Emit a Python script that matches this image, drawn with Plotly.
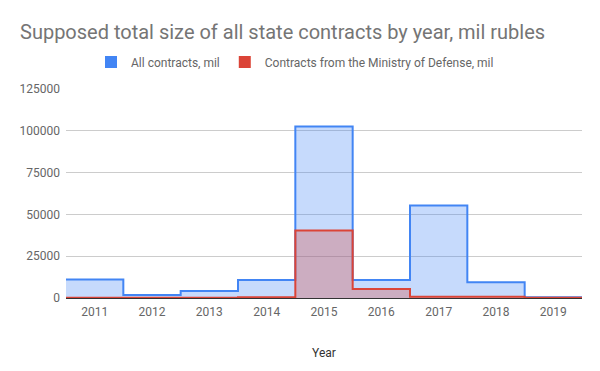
import plotly.graph_objects as go

years = [2011, 2012, 2013, 2014, 2015, 2016, 2017, 2018, 2019]
all_contracts = [11000, 1800, 4200, 10800, 102500, 10800, 55300, 9400, 400]
defense_contracts = [100, 100, 100, 500, 40300, 5400, 800, 800, 100]
year_labels = [str(y) for y in years]

# step edges: each category spans [year-0.5, year+0.5]
edges = [y - 0.5 for y in years] + [years[-1] + 0.5]

BLUE = "#4285F4"
RED = "#DB4437"

fig = go.Figure()
fig.add_trace(go.Scatter(
    x=edges, y=all_contracts + [all_contracts[-1]], mode="lines",
    line=dict(color=BLUE, width=2, shape="hv"),
    fill="tozeroy", fillcolor="rgba(66,133,244,0.3)",
    showlegend=False, hoverinfo="skip"))
fig.add_trace(go.Scatter(
    x=edges, y=defense_contracts + [defense_contracts[-1]], mode="lines",
    line=dict(color=RED, width=2, shape="hv"),
    fill="tozeroy", fillcolor="rgba(219,68,55,0.3)",
    showlegend=False, hoverinfo="skip"))
# legend swatches
fig.add_trace(go.Scatter(x=[None], y=[None], mode="markers", name="All contracts, mil",
                         marker=dict(symbol="square", size=12, color=BLUE)))
fig.add_trace(go.Scatter(x=[None], y=[None], mode="markers",
                         name="Contracts from the Ministry of Defense, mil",
                         marker=dict(symbol="square", size=12, color=RED)))

fig.update_layout(
    width=600, height=371,
    margin=dict(l=66, r=18, t=89, b=73, autoexpand=False),
    paper_bgcolor="white", plot_bgcolor="white",
    font=dict(family="Roboto", size=12, color="#666666"),
    title=dict(text="Supposed total size of all state contracts by year, mil rubles",
               x=20/600, xref="container", xanchor="left",
               y=1 - 32/371, yref="container", yanchor="middle",
               font=dict(family="Roboto", size=20, color="#757575")),
    legend=dict(orientation="h", xref="container", x=0.5 - 5/600, xanchor="center",
                yref="container", y=1 - 62/371, yanchor="middle",
                font=dict(size=12, color="#666666"), itemsizing="constant",
                tracegroupgap=0),
    xaxis=dict(range=[edges[0], edges[-1]], tickvals=years, ticktext=year_labels,
               showgrid=False, zeroline=False, showline=False, ticks="",
               ticklabelstandoff=5,
               title=dict(text="Year", font=dict(size=12, color="#333333"), standoff=30),
               tickfont=dict(size=12, color="#666666")),
    yaxis=dict(range=[0, 125000], tickvals=[0, 25000, 50000, 75000, 100000, 125000],
               tickformat="d", showgrid=True, gridcolor="#cccccc", gridwidth=1,
               zeroline=True, zerolinecolor="#333333", zerolinewidth=1,
               showline=False, ticks="", ticklabelstandoff=5,
               tickfont=dict(size=12, color="#666666")),
)

fig.write_html("out.html", config={"displayModeBar": False},
               post_script="document.body.style.margin='0';")
